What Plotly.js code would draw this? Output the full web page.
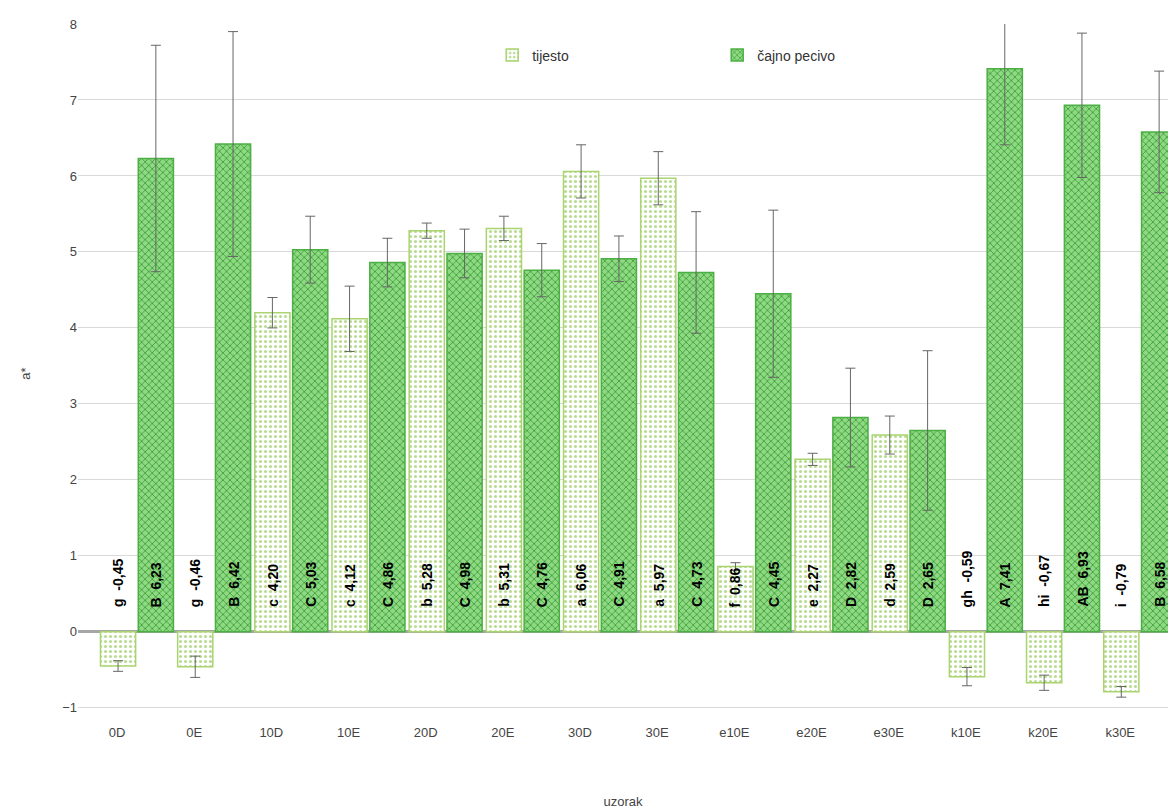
<!DOCTYPE html>
<html><head><meta charset="utf-8">
<script src="https://cdn.plot.ly/plotly-3.0.1.min.js"></script>
<style>html,body{margin:0;padding:0;background:#fff}</style>
</head><body>
<div id="chart" style="width:1168px;height:809px"></div>
<script>
// uzorak categories
const categories = ['0D','0E','10D','10E','20D','20E','30D','30E','e10E','e20E','e30E','k10E','k20E','k30E'];
// tijesto (dough)
const tijesto = [-0.45,-0.46,4.20,4.12,5.28,5.31,6.06,5.97,0.86,2.27,2.59,-0.59,-0.67,-0.79];
const tijestoErr = [0.07,0.14,0.2,0.43,0.1,0.16,0.35,0.35,0.05,0.08,0.25,0.12,0.1,0.07];
const tijestoLetters = ['g','g','c','c','b','b','a','a','f','e','d','gh','hi','i'];
// čajno pecivo (tea biscuit)
const pecivo = [6.23,6.42,5.03,4.86,4.98,4.76,4.91,4.73,4.45,2.82,2.65,7.41,6.93,6.58];
const pecivoErr = [1.49,1.48,0.44,0.32,0.32,0.35,0.3,0.8,1.1,0.65,1.05,1.0,0.95,0.8];
const pecivoLetters = ['B','B','C','C','C','C','C','C','C','D','D','A','AB','B'];

const fmt = v => v.toFixed(2).replace('.', ',');

const traces = [
  {
    type: 'bar', name: 'tijesto', x: categories, y: tijesto,
    error_y: {type: 'data', array: tijestoErr, color: '#666', thickness: 1, width: 5},
    marker: {color: '#f4f9ec', line: {color: '#a9d46f', width: 1.5},
      pattern: {shape: '.', fgcolor: '#b9dc93', bgcolor: '#ffffff', size: 5, solidity: 0.3}}
  },
  {
    type: 'bar', name: 'čajno pecivo', x: categories, y: pecivo,
    error_y: {type: 'data', array: pecivoErr, color: '#666', thickness: 1, width: 5},
    marker: {color: '#5cbf4f', line: {color: '#4caf43', width: 1.5},
      pattern: {shape: 'x', fgcolor: '#3a9e33', bgcolor: '#8fd884', size: 5, solidity: 0.3}}
  }
];

const annotations = [];
categories.forEach((c, i) => {
  annotations.push({x: c, y: 0.3, xref: 'x', yref: 'y', xshift: -19, yanchor: 'bottom',
    text: tijestoLetters[i] + '  ' + fmt(tijesto[i]), textangle: -90, showarrow: false,
    font: {family: 'Liberation Sans', size: 14, color: '#000', weight: 'bold'}});
  annotations.push({x: c, y: 0.3, xref: 'x', yref: 'y', xshift: 19, yanchor: 'bottom',
    text: pecivoLetters[i] + '  ' + fmt(pecivo[i]), textangle: -90, showarrow: false,
    font: {family: 'Liberation Sans', size: 14, color: '#000', weight: 'bold'}});
});

const layout = {
  width: 1168, height: 809,
  margin: {l: 78, r: 0, t: 24, b: 86},
  paper_bgcolor: '#fff', plot_bgcolor: '#fff',
  font: {family: 'Liberation Sans', size: 13, color: '#444'},
  barmode: 'group', bargap: 0.02, bargroupgap: 0.07,
  showlegend: true,
  legend: {orientation: 'h', x: 0.38, y: 0.955, xanchor: 'left', yanchor: 'middle',
    font: {size: 14, color: '#333'}, entrywidth: 180},
  xaxis: {range: [-0.764, 13.36], showgrid: false, ticks: '', showline: false,
    ticklabelshift: -20,
    title: {text: 'uzorak', standoff: 57, font: {size: 13, color: '#444'}}},
  yaxis: {range: [-1.2, 8], dtick: 1, gridcolor: '#d9d9d9', zeroline: true,
    zerolinecolor: '#a6a6a6', zerolinewidth: 3, ticks: '', showline: false,
    title: {text: 'a*', standoff: 28, font: {size: 13, color: '#444'}}},
  annotations: annotations
};

Plotly.newPlot('chart', traces, layout, {displayModeBar: false});
</script>
</body></html>
